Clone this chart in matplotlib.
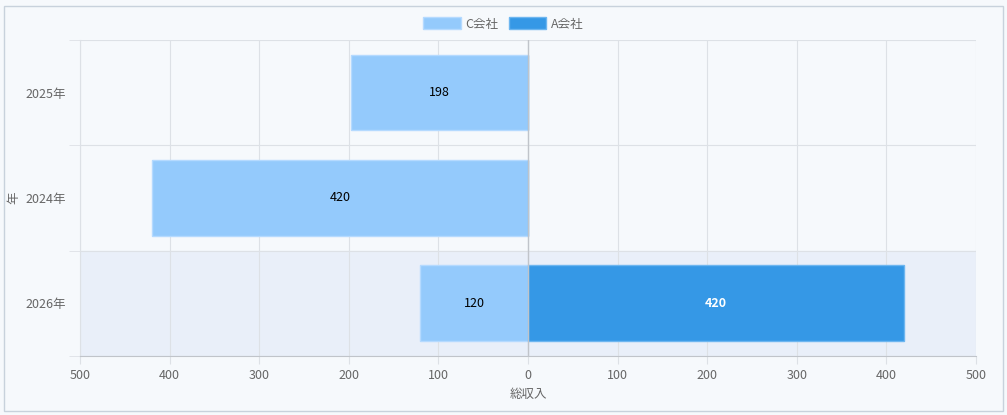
import matplotlib
matplotlib.use("Agg")
import matplotlib.pyplot as plt
from matplotlib.patches import Rectangle

plt.rcParams['font.family'] = ['Noto Sans CJK JP', 'DejaVu Sans']

years = ["2025年", "2024年", "2026年"]
c_vals = [198, 420, 120]
a_vals = [0, 0, 420]
ticks = [-500, -400, -300, -200, -100, 0, 100, 200, 300, 400, 500]
tick_labels = ["500", "400", "300", "200", "100", "0", "100", "200", "300", "400", "500"]

fig = plt.figure(figsize=(10.07, 4.15), dpi=100, facecolor="#f6f9fc")
fig.add_artist(Rectangle((0.004, 0.01), 0.992, 0.975, transform=fig.transFigure,
                         fill=False, edgecolor="#c8d2dc", lw=1))
ax = fig.add_axes([0.0794, 0.142, 0.8898, 0.762])
ax.set_facecolor("#f6f9fc")

n = len(years)
ys = list(range(n))
ax.axhspan(2 - 0.5, 2 + 0.5, color="#e9eff9", zorder=0)
ax.barh(ys, [-v for v in c_vals], height=0.72, color="#94cafc", edgecolor="#b5daff", lw=1, label="C会社", zorder=2)
ax.barh(ys, a_vals, height=0.72, color="#3598e6", edgecolor="#6db6f0", lw=1, label="A会社", zorder=2)
for y, v in zip(ys, c_vals):
    if v:
        ax.text(-v / 2, y, str(v), ha="center", va="center", fontsize=9, color="black", zorder=3)
for y, v in zip(ys, a_vals):
    if v:
        ax.text(v / 2, y, str(v), ha="center", va="center", fontsize=9, color="white", fontweight="bold", zorder=3)

ax.set_xlim(-500, 500)
ax.set_ylim(n - 0.5, -0.5)
ax.set_xticks(ticks)
ax.set_xticklabels(tick_labels)
ax.set_yticks(ys)
ax.set_yticklabels(years)
ax.set_yticks([-0.5, 0.5, 1.5, 2.5], minor=True)
ax.grid(axis="x", color="#dde1e6", lw=0.8, zorder=1)
ax.grid(axis="y", which="minor", color="#dde1e6", lw=0.8, zorder=1)
ax.tick_params(axis="both", which="major", colors="#666666", labelsize=9)
ax.tick_params(axis="y", which="major", length=0, pad=10)
ax.tick_params(axis="y", which="minor", length=8, color="#dde1e6")
ax.tick_params(axis="x", length=6, color="#dde1e6")
for s in ax.spines.values():
    s.set_color("#dde1e6")
ax.spines["top"].set_visible(False)
ax.spines["right"].set_visible(False)
ax.spines["bottom"].set_color("#c0c4ca")
ax.axvline(0, color="#c0c4ca", lw=1, zorder=2.5)
ax.set_xlabel("総収入", color="#666666", fontsize=9, labelpad=4)
ax.set_ylabel("年", color="#666666", fontsize=9, labelpad=4)
fig.legend(loc="upper center", bbox_to_anchor=(0.5, 0.985), ncol=2, frameon=False,
           fontsize=9, labelcolor="#666666", handlelength=3, handleheight=1.1, columnspacing=0.8, handletextpad=0.4)
fig.savefig("out.png", dpi=100, facecolor=fig.get_facecolor())
